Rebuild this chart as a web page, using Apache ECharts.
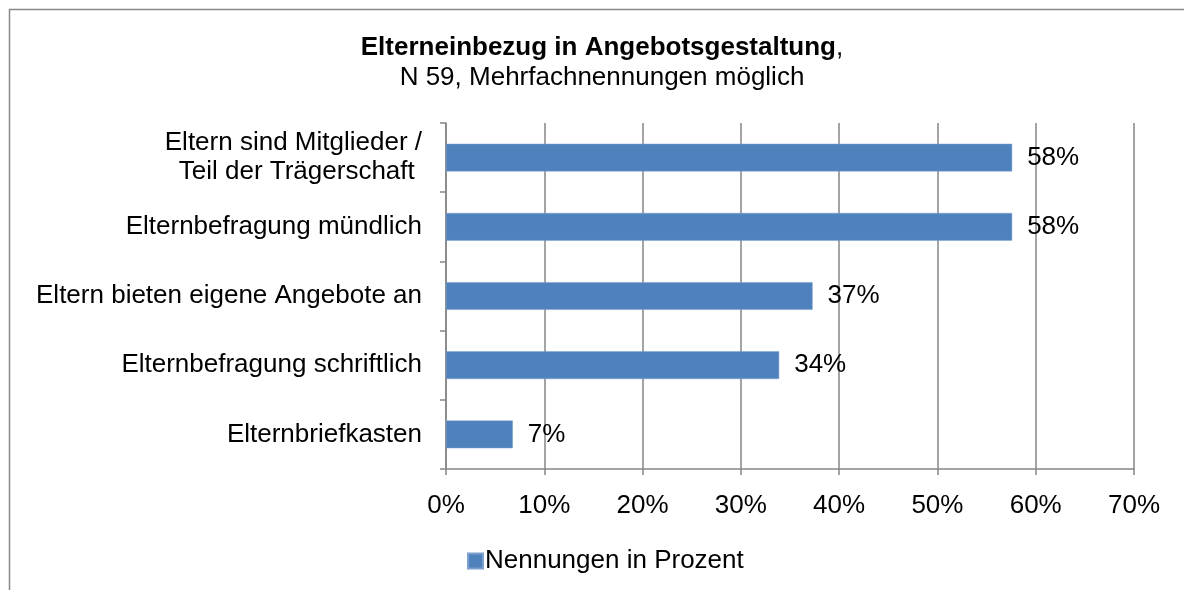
<!DOCTYPE html>
<html>
<head>
<meta charset="utf-8">
<script src="https://cdn.jsdelivr.net/npm/echarts@6/dist/echarts.min.js"></script>
<style>
  html, body { margin: 0; padding: 0; background: #fff; }
  #chart { width: 1184px; height: 590px; }
</style>
</head>
<body>
<div id="chart"></div>
<script>
// Daten
const categories = [
  'Eltern sind Mitglieder /\nTeil der Trägerschaft ',
  'Elternbefragung mündlich',
  'Eltern bieten eigene Angebote an',
  'Elternbefragung schriftlich',
  'Elternbriefkasten'
]
const values = [57.6, 57.6, 37.3, 33.9, 6.8]
const valueLabels = ['58%', '58%', '37%', '34%', '7%']
const xTicks = [0, 10, 20, 30, 40, 50, 60, 70]
const seriesName = 'Nennungen in Prozent'

const font = 'Liberation Sans, Arial, sans-serif'
const fs = 26
const chart = echarts.init(document.getElementById('chart'))

const option = {
  backgroundColor: '#fff',
  animation: false,
  textStyle: { fontFamily: font },
  graphic: [{
    type: 'rect',
    shape: { x: 9.5, y: 9.5, width: 1300, height: 800 },
    style: { fill: 'none', stroke: '#888', lineWidth: 1.5 }
  }],
  title: {
    text: '{b|Elterneinbezug in Angebotsgestaltung},\nN 59, Mehrfachnennungen möglich',
    left: 597,
    textAlign: 'center',
    top: 28,
    textStyle: {
      fontFamily: font,
      fontSize: fs,
      fontWeight: 'normal',
      color: '#000',
      lineHeight: 30,
      rich: {
        b: { fontFamily: font, fontSize: fs, fontWeight: 'bold', color: '#000', lineHeight: 30 }
      }
    }
  },
  legend: {
    data: [seriesName],
    left: 462,
    top: 543,
    icon: 'rect',
    itemWidth: 15,
    itemHeight: 15,
    itemGap: 5,
    textStyle: { fontFamily: font, fontSize: fs, color: '#000', padding: [0, 0, 0, -3] }
  },
  grid: { left: 446, right: 50, top: 123, bottom: 121, containLabel: false },
  xAxis: {
    type: 'value',
    min: xTicks[0],
    max: xTicks[xTicks.length - 1],
    interval: 10,
    axisLine: { show: true, lineStyle: { color: '#868686', width: 1.5 } },
    axisTick: { show: true, length: 6, lineStyle: { color: '#868686', width: 1.5 } },
    splitLine: { show: true, lineStyle: { color: '#868686', width: 1.5 } },
    axisLabel: {
      formatter: v => v + '%',
      fontFamily: font, fontSize: fs, color: '#000', margin: 24
    }
  },
  yAxis: {
    type: 'category',
    inverse: true,
    data: categories,
    axisLine: { show: true, lineStyle: { color: '#868686', width: 1.5 } },
    axisTick: { show: true, length: 6, lineStyle: { color: '#868686', width: 1.5 } },
    splitLine: { show: false },
    axisLabel: {
      fontFamily: font, fontSize: fs, color: '#000', margin: 24, lineHeight: 29, align: 'right'
    }
  },
  series: [{
    name: seriesName,
    type: 'bar',
    data: values,
    barWidth: '40%',
    itemStyle: { color: '#4F81BD', borderColor: '#7DA0CC', borderWidth: 0.5 },
    label: {
      show: true,
      position: 'right',
      distance: 15,
      fontFamily: font,
      fontSize: fs,
      color: '#000',
      formatter: p => valueLabels[p.dataIndex]
    }
  }]
}

chart.setOption(option)
</script>
</body>
</html>
